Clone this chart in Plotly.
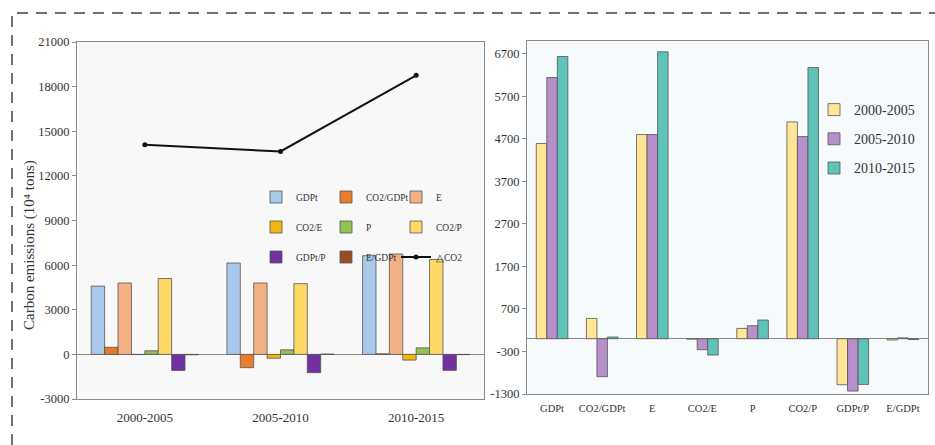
import plotly.graph_objects as go

W, H = 935, 445

# ---------------- data ----------------
periods = ["2000-2005", "2005-2010", "2010-2015"]
factors = ["GDPt", "CO2/GDPt", "E", "CO2/E", "P", "CO2/P", "GDPt/P", "E/GDPt"]

GDPt = [4590, 6140, 6635]
CO2_GDPt = [478, -894, 40]
E = [4800, 4800, 6746]
CO2_E = [-10, -259, -384]
P = [242, 306, 440]
CO2_P = [5098, 4753, 6376]
GDPt_P = [-1082, -1231, -1075]
E_GDPt = [-30, 20, -20]
dCO2 = [14100, 13640, 18760]

left_series = [GDPt, CO2_GDPt, E, CO2_E, P, CO2_P, GDPt_P, E_GDPt]
left_colors = ["#a9c9ea", "#e97c2c", "#f4b185", "#f3b60a", "#93c152", "#ffd966", "#7230a0", "#9c4c22"]
left_legend = ["legend", "legend", "legend", "legend2", "legend2", "legend2", "legend3", "legend3"]

right_colors = ["#ffe595", "#b68fcb", "#5fc4b7"]

left_yticks = [-3000, 0, 3000, 6000, 9000, 12000, 15000, 18000, 21000]
right_yticks = [-1300, -300, 700, 1700, 2700, 3700, 4700, 5700, 6700]

FONT = "Liberation Serif"

def px_x(p):
    return p / W

def px_y(p):
    return 1 - p / H

fig = go.Figure()

# ---------------- left chart ----------------
for name, vals, col, lg in zip(factors, left_series, left_colors, left_legend):
    fig.add_trace(go.Bar(
        x=periods, y=vals, name=name, marker=dict(color=col, line=dict(color="#555555", width=0.8)),
        xaxis="x", yaxis="y", legend=lg,
    ))

fig.add_trace(go.Scatter(
    x=periods, y=dCO2, name="△CO2", mode="lines+markers",
    line=dict(color="#111111", width=2), marker=dict(color="#111111", size=5),
    xaxis="x", yaxis="y", legend="legend3",
))

# ---------------- right chart ----------------
bw = 0.21
for i, per in enumerate(periods):
    fig.add_trace(go.Bar(
        x=factors, y=[s[i] for s in left_series], name=per,
        marker=dict(color=right_colors[i], line=dict(color="#555555", width=0.8)),
        width=bw, offset=-1.5 * bw + i * bw,
        xaxis="x2", yaxis="y2", legend="legend4", legendgroup=per,
    ))

axis_common = dict(showline=True, linecolor="#8a8a8a", linewidth=1, mirror=True,
                   showgrid=False, zeroline=True, zerolinecolor="#8a8a8a", zerolinewidth=1)

fig.update_layout(
    width=W, height=H,
    margin=dict(l=0, r=0, t=0, b=0, autoexpand=False),
    paper_bgcolor="white",
    barmode="group", bargap=0.21, bargroupgap=0,
    font=dict(family=FONT, color="#333333"),
    xaxis=dict(domain=[px_x(77), px_x(484)], anchor="y", type="category",
               tickfont=dict(size=13), ticks="", ticklabelstandoff=6, **axis_common),
    yaxis=dict(domain=[1 - 399 / H, 1 - 42 / H], anchor="x", range=[-3000, 21000],
               tickvals=left_yticks, ticktext=[str(v) for v in left_yticks],
               tickfont=dict(size=12.5), ticks="outside", ticklen=4, tickcolor="#8a8a8a",
               **axis_common),
    xaxis2=dict(domain=[px_x(527), px_x(928)], anchor="y2", type="category",
                tickfont=dict(size=10.5), ticks="", ticklabelstandoff=4, **axis_common),
    yaxis2=dict(domain=[1 - 394 / H, 1 - 41 / H], anchor="x2", range=[-1300, 7000],
                tickvals=right_yticks, ticktext=[str(v) for v in right_yticks],
                tickfont=dict(size=12.5), ticks="outside", ticklen=4, tickcolor="#8a8a8a",
                **axis_common),
    plot_bgcolor="#f8f8f8",
    showlegend=True,
)

leg_common = dict(orientation="h", entrywidth=25, entrywidthmode="pixels",
                  bgcolor="rgba(0,0,0,0)", font=dict(size=9.5, color="#333333"),
                  xanchor="left", yanchor="middle", itemclick=False, itemdoubleclick=False)
fig.update_layout(
    legend=dict(x=px_x(256), y=px_y(197), **leg_common),
    legend2=dict(x=px_x(256), y=px_y(227), **leg_common),
    legend3=dict(x=px_x(256), y=px_y(257), **leg_common),
    legend4=dict(x=px_x(814), y=px_y(139), xanchor="left", yanchor="middle",
                 orientation="v", tracegroupgap=8, bgcolor="rgba(0,0,0,0)",
                 font=dict(size=14, color="#333333")),
)

# right plot background (different tint)
fig.add_shape(type="rect", xref="x2 domain", yref="y2 domain", x0=0, x1=1, y0=0, y1=1,
              fillcolor="#f7fafd", line=dict(width=0), layer="below")

# dashed outer frame
fig.add_shape(type="rect", xref="paper", yref="paper",
              x0=px_x(12), x1=px_x(960), y0=px_y(470), y1=px_y(13),
              line=dict(color="#444444", width=1.5, dash="11px,8px"), layer="above")

# y-axis title
fig.add_annotation(text="Carbon emissions (10⁴ tons)", xref="paper", yref="paper",
                   x=px_x(29), y=px_y(245), xanchor="center", yanchor="middle",
                   textangle=-90, showarrow=False,
                   font=dict(size=15, color="#333333", family=FONT))

fig.write_html("out.html", config={"displayModeBar": False},
               post_script="document.body.style.margin='0';")
